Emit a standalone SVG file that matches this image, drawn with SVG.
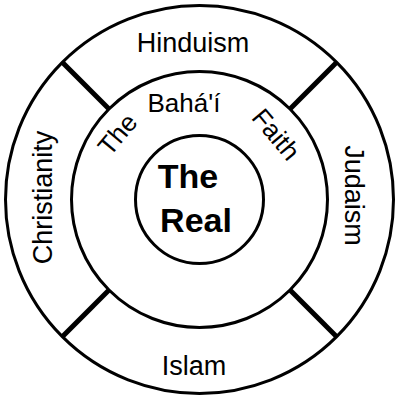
<svg xmlns="http://www.w3.org/2000/svg" width="399" height="400" viewBox="0 0 399 400">
<style>
.ring{fill:none;stroke:#000;stroke-width:3}
.div{stroke:#000;stroke-width:5}
.t{font-family:"Liberation Sans",Arial,sans-serif;font-size:27px;fill:#000;text-anchor:middle}
.b{font-family:"Liberation Sans",Arial,sans-serif;font-size:26px;fill:#000;text-anchor:middle}
.r{font-family:"Liberation Sans",Arial,sans-serif;font-size:34px;font-weight:bold;fill:#000;text-anchor:middle}
</style>
<rect width="399" height="400" fill="#fff"/>
<g id="outer"><circle class="ring" cx="199.5" cy="199.5" r="194"/></g>
<g id="middle"><circle class="ring" cx="199.5" cy="199.5" r="128"/></g>
<g id="connectors">
<line class="div" x1="62.3" y1="62.3" x2="109" y2="109"/>
<line class="div" x1="336.7" y1="62.3" x2="290" y2="109"/>
<line class="div" x1="62.3" y1="336.7" x2="109" y2="290"/>
<line class="div" x1="336.7" y1="336.7" x2="290" y2="290"/>
</g>
<g id="hinduism"><text class="t" x="193" y="52">Hinduism</text></g>
<g id="islam"><text class="t" x="194" y="375">Islam</text></g>
<g id="christianity"><text class="t" transform="translate(52,197.5) rotate(-90)">Christianity</text></g>
<g id="judaism"><text class="t" transform="translate(345,195.5) rotate(90)">Judaism</text></g>
<g id="bahai">
<text class="b" x="184" y="112">Bahá'í</text>
<text class="b" transform="translate(124.3,140.1) rotate(-50)">The</text>
<text class="b" transform="translate(269.2,140.1) rotate(50)">Faith</text>
</g>
<g id="real">
<circle class="ring" cx="199.5" cy="199.5" r="64"/>
<text class="r" x="188" y="188">The</text>
<text class="r" x="196" y="232">Real</text>
</g>
</svg>
